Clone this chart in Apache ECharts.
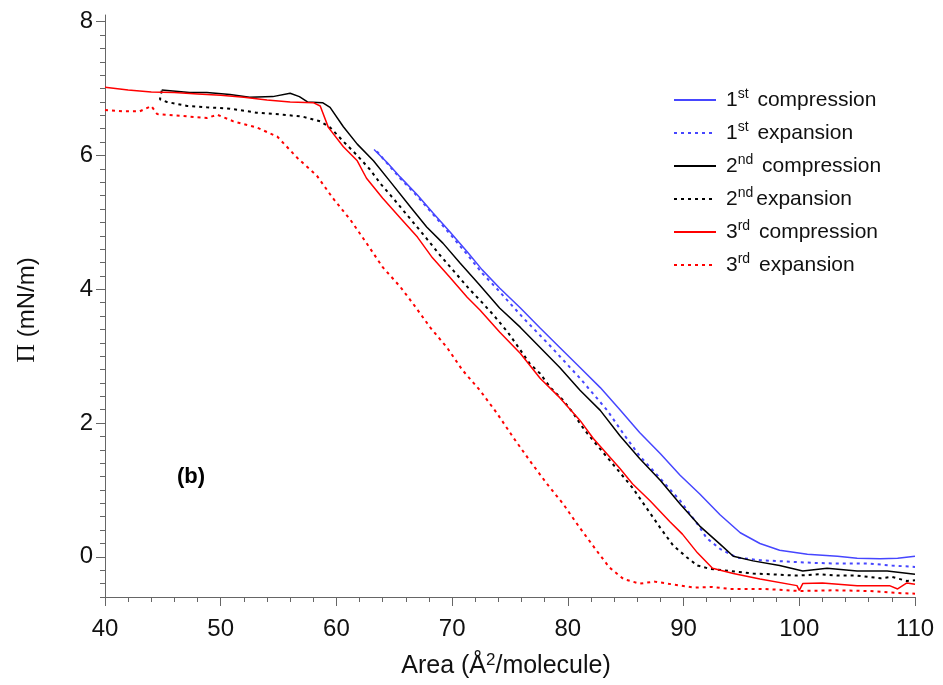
<!DOCTYPE html>
<html><head><meta charset="utf-8">
<script src="https://cdn.jsdelivr.net/npm/echarts@6.0.0/dist/echarts.min.js"></script>
<style>html,body{margin:0;padding:0;background:#fff}#c{width:943px;height:685px}</style>
</head><body><div id="c"></div>
<script>
const seriesNames = ['1st compression','1st expansion','2nd compression','2nd expansion','3rd compression','3rd expansion'];
const legendLabels = ['1{s|st} compression','1{s|st} expansion','2{s|nd} compression','2{s|nd}expansion','3{s|rd} compression','3{s|rd} expansion'];
const xTickValues = [40,50,60,70,80,90,100,110];
const yTickValues = [0,2,4,6,8];

const comp1 = [[63.25,6.09],[64.4,5.89],[65.5,5.68],[67.0,5.41],[68.35,5.14],[69.8,4.86],[71.3,4.56],[72.6,4.29],[74.1,4.02],[75.9,3.72],[77.6,3.42],[79.3,3.13],[81.05,2.83],[82.8,2.53],[84.5,2.2],[86.2,1.86],[88.0,1.54],[89.7,1.22],[91.4,0.94],[93.15,0.63],[94.9,0.36],[96.6,0.2],[98.3,0.1],[100.7,0.04],[103.3,0.01],[105,-0.02],[107,-0.03],[108.5,-0.02],[110,0.01]];
const exp1 = [[63.5,6.06],[65.5,5.66],[67.0,5.39],[68.35,5.12],[69.8,4.83],[71.3,4.52],[72.6,4.24],[73.7,4.04],[76.1,3.58],[78.6,3.13],[81.05,2.67],[83.4,2.19],[84.8,1.84],[86.2,1.51],[88.0,1.17],[89.7,0.84],[91.2,0.49],[92.0,0.28],[93.15,0.12],[94.6,-0.01],[96.6,-0.05],[98.9,-0.07],[101.2,-0.09],[103.3,-0.1],[106,-0.1],[108,-0.13],[110,-0.15]];
const comp2 = [[44.9,6.98],[47.3,6.94],[48.8,6.94],[50.8,6.91],[52.5,6.87],[54.5,6.88],[56.0,6.93],[56.8,6.88],[57.5,6.80],[58.8,6.79],[59.45,6.72],[60.6,6.43],[61.8,6.17],[63.2,5.92],[64.6,5.62],[66.4,5.23],[67.8,4.93],[69.2,4.69],[70.7,4.39],[72.3,4.08],[74.1,3.72],[75.9,3.43],[77.6,3.13],[79.3,2.83],[81.05,2.49],[82.8,2.19],[84.5,1.81],[86.2,1.47],[88.0,1.14],[89.7,0.79],[91.4,0.46],[93.15,0.19],[94.3,0.01],[96.0,-0.06],[98.3,-0.13],[100.3,-0.21],[102.4,-0.17],[105,-0.21],[107.6,-0.21],[110,-0.26]];
const exp2 = [[44.9,6.97],[44.75,6.84],[45.35,6.80],[47.1,6.74],[48.8,6.72],[50.8,6.70],[53.1,6.64],[55.4,6.61],[57.1,6.58],[58.6,6.51],[59.45,6.42],[60.6,6.21],[61.8,6.0],[62.9,5.79],[63.8,5.58],[65.0,5.34],[66.3,5.07],[67.6,4.8],[68.9,4.52],[70.2,4.26],[71.5,4.0],[72.6,3.8],[73.6,3.61],[74.8,3.36],[75.9,3.09],[76.7,2.89],[77.6,2.74],[78.5,2.53],[79.6,2.34],[80.5,2.14],[81.05,1.99],[81.7,1.84],[84.5,1.26],[85.6,1.03],[86.8,0.73],[88.0,0.43],[89.1,0.17],[90.3,-0.01],[91.2,-0.13],[92.3,-0.18],[94.0,-0.21],[96.0,-0.25],[97.5,-0.26],[99.8,-0.28],[101.8,-0.26],[103.3,-0.28],[105.0,-0.28],[107,-0.32],[108,-0.3],[109.3,-0.36],[110,-0.35]];
const comp3 = [[40,7.02],[42,6.98],[44,6.95],[46,6.94],[48,6.92],[50,6.90],[52,6.87],[54,6.83],[56,6.80],[58,6.79],[58.6,6.74],[59.3,6.42],[60.6,6.13],[61.8,5.92],[62.6,5.66],[64.0,5.36],[65.5,5.07],[67.0,4.78],[68.3,4.47],[69.8,4.18],[71.3,3.88],[72.4,3.69],[74.1,3.36],[75.9,3.04],[77.6,2.67],[79.3,2.38],[81.05,2.04],[82.2,1.77],[84.5,1.32],[85.6,1.09],[87.1,0.84],[88.8,0.53],[89.9,0.34],[91.2,0.06],[92.5,-0.17],[94.3,-0.25],[96.6,-0.33],[99.8,-0.43],[100,-0.5],[100.3,-0.4],[102,-0.39],[105,-0.43],[107.8,-0.43],[108.5,-0.48],[109.3,-0.39],[110,-0.41]];
const exp3 = [[40,6.68],[41.5,6.66],[43.0,6.66],[44.0,6.74],[44.5,6.62],[46.7,6.59],[48.8,6.56],[49.7,6.61],[51.1,6.51],[53.1,6.42],[54.9,6.28],[56.7,5.95],[58.3,5.7],[59.7,5.36],[61.2,5.04],[62.6,4.69],[64.0,4.33],[65.5,4.04],[66.6,3.79],[68.1,3.43],[69.55,3.13],[70.9,2.79],[72.4,2.49],[73.9,2.14],[75.3,1.78],[76.7,1.44],[78.2,1.09],[79.6,0.79],[81.05,0.43],[82.5,0.09],[83.6,-0.16],[84.8,-0.33],[86.2,-0.4],[87.5,-0.37],[89.0,-0.41],[91.0,-0.46],[92.5,-0.45],[94,-0.48],[97,-0.48],[100,-0.51],[103,-0.5],[106,-0.51],[108.5,-0.54],[110,-0.55]];

const seriesData = [comp1, exp1, comp2, exp2, comp3, exp3];
const colors = ['#4646ff','#4646ff','#000000','#000000','#ff0000','#ff0000'];
const dotted = [false,true,false,true,false,true];

// minor tick positions every 0.2 from -0.6 to 8.0
const yMinorTicks = [];
for (let k = 0; k <= 43; k++) yMinorTicks.push(Math.round((-0.6 + k * 0.2) * 10) / 10);

const FONT = '"Liberation Sans", Arial, sans-serif';
const AXIS = '#666';
const Y_MIN = -0.6, Y_MAX = 8.1;

const chart = echarts.init(document.getElementById('c'), null, {renderer:'canvas'});
chart.setOption({
  animation: false,
  backgroundColor: '#fff',
  grid: {left: 105, right: 28, top: 15, bottom: 88, containLabel: false},
  legend: {
    orient: 'vertical', left: 668, top: 82,
    itemWidth: 42, itemHeight: 10, itemGap: 7,
    itemStyle: {opacity: 0},
    data: seriesNames,
    formatter: function(name){ return legendLabels[seriesNames.indexOf(name)]; },
    textStyle: {
      fontFamily: FONT, fontSize: 21, color: '#111', lineHeight: 26, padding: [0,0,0,5],
      rich: { s: {fontFamily: FONT, fontSize: 14, color: '#111', verticalAlign: 'top', lineHeight: 26, padding:[0,3,10,0]} }
    }
  },
  xAxis: [{
    type: 'value', min: 40, max: 110, interval: 10,
    axisLine: {show: true, onZero: false, lineStyle: {color: AXIS, width: 1}},
    axisTick: {show: true, length: 9, lineStyle: {color: AXIS}},
    minorTick: {show: true, splitNumber: 5, length: 5, lineStyle: {color: AXIS}},
    axisLabel: {fontFamily: FONT, fontSize: 24, color: '#111', margin: 20, customValues: xTickValues},
    splitLine: {show: false}
  }],
  yAxis: [{
    type: 'value', min: Y_MIN, max: Y_MAX,
    axisLine: {show: true, onZero: false, lineStyle: {color: AXIS, width: 1}},
    axisTick: {show: true, length: 5, customValues: yMinorTicks, lineStyle: {color: AXIS}},
    axisLabel: {show: false},
    splitLine: {show: false}
  },{
    type: 'value', min: Y_MIN, max: Y_MAX, position: 'left', offset: 0,
    axisLine: {show: false},
    axisTick: {show: true, length: 9, customValues: yTickValues, lineStyle: {color: AXIS}},
    axisLabel: {show: true, customValues: yTickValues, fontFamily: FONT, fontSize: 24, color: '#111', margin: 12},
    splitLine: {show: false}
  }],
  graphic: [
    {type: 'text', x: 27, y: 310, rotation: Math.PI/2,
     style: {text: '{p|\u03A0} (mN/m)', fontFamily: FONT, fontSize: 24, fill: '#111', align: 'center', verticalAlign: 'middle',
       rich: {p: {fontFamily: '"Liberation Serif", "Times New Roman", serif', fontSize: 26, fill: '#111'}}}},
    {type: 'text', x: 506, y: 666,
     style: {text: 'Area (\u00C5{s|2}/molecule)', fontFamily: FONT, fontSize: 25, fill: '#111', align: 'center', verticalAlign: 'middle',
       rich: {s: {fontFamily: FONT, fontSize: 17, fill: '#111', verticalAlign: 'top', padding: [0,0,12,0]}}}},
    {type: 'text', x: 191, y: 477,
     style: {text: '(b)', fontFamily: FONT, fontSize: 22, fontWeight: 'bold', fill: '#000', align: 'center', verticalAlign: 'middle'}}
  ],
  series: seriesData.map(function(d, i){
    return {
      name: seriesNames[i], type: 'line', data: d, symbol: 'none', showSymbol: false,
      xAxisIndex: 0, yAxisIndex: 0, clip: true,
      lineStyle: {color: colors[i], width: dotted[i] ? 2 : 1.5, type: dotted[i] ? [3,4] : 'solid'},
      itemStyle: {color: colors[i]},
      emphasis: {disabled: true}
    };
  })
});
</script></body></html>
